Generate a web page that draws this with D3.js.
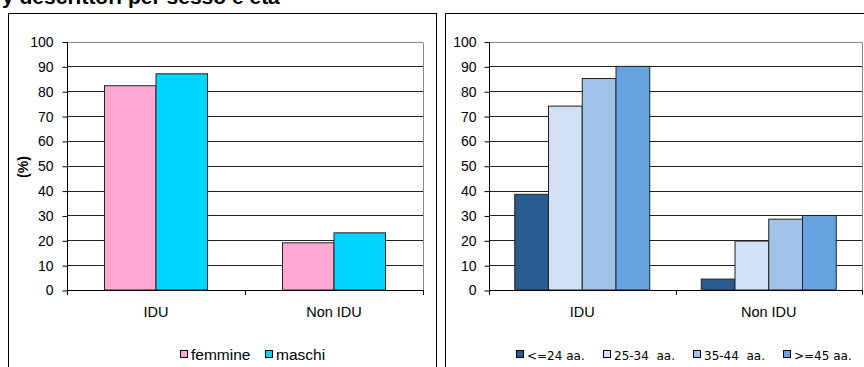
<!DOCTYPE html>
<html><head><meta charset="utf-8">
<script src="https://cdn.jsdelivr.net/npm/d3@7/dist/d3.min.js"></script>
<style>body{margin:0;background:#fff}svg{display:block}</style>
</head><body>
<svg id="c" width="864" height="367"></svg>
<script>
const categories = ["IDU", "Non IDU"];
const ticks = [0,10,20,30,40,50,60,70,80,90,100];
const sexSeries = ["femmine", "maschi"];
const femmine = [82.2, 19];
const maschi = [87, 23];
const ageSeries = ["<=24 aa.", "25-34  aa.", "35-44  aa.", ">=45 aa."];
const age24 = [38.5, 4.4];
const age25_34 = [74, 19.7];
const age35_44 = [85.1, 28.5];
const age45 = [90, 30];
const sexColors = ["#FFA8D4", "#00D4FF"];
const ageColors = ["#285C90", "#D1E1F3", "#A2C3E8", "#65A2E0"];

const svg = d3.select("#c");

// clipped title
svg.append("text").attr("x", 2).attr("y", 4).attr("font-family", "Liberation Sans, Arial").attr("font-weight", "bold").attr("font-size", 21).text("y descrittori per sesso e età");

// panel frames
svg.append("rect").attr("x", 8.5).attr("y", 13.5).attr("width", 428).attr("height", 400).attr("fill", "none").attr("stroke", "#000").attr("stroke-width", 1);
svg.append("rect").attr("x", 445.5).attr("y", 13.5).attr("width", 430).attr("height", 400).attr("fill", "none").attr("stroke", "#000").attr("stroke-width", 1);

function panel(opt) {
  const g = svg.append("g");
  const x0 = d3.scaleBand().domain(categories).range([opt.left, opt.right]).paddingInner(0).paddingOuter(0);
  const y = d3.scaleLinear().domain([0, 100]).range([290, 41.5]);
  const x1 = d3.scaleBand().domain(opt.series).range([0, opt.groupW]);
  // grid
  g.selectAll(".grid").data(ticks.filter(t => t > 0)).enter().append("line")
    .attr("x1", opt.left).attr("x2", opt.right)
    .attr("y1", d => Math.round(y(d)) + 0.5).attr("y2", d => Math.round(y(d)) + 0.5)
    .attr("stroke", d => d === 100 ? "#888" : "#222").attr("stroke-width", 1);
  // right border
  g.append("line").attr("x1", opt.right + 0.5).attr("x2", opt.right + 0.5).attr("y1", Math.round(y(100)) + 0.5).attr("y2", 290).attr("stroke", "#888");
  // bars
  opt.series.forEach((s, i) => {
    g.selectAll(".b" + i).data(categories).enter().append("rect")
      .attr("x", (d) => x0(d) + (x0.bandwidth() - opt.groupW) / 2 + x1(s))
      .attr("y", (d, j) => y(opt.values[i][j]))
      .attr("width", x1.bandwidth())
      .attr("height", (d, j) => 290 - y(opt.values[i][j]))
      .attr("fill", opt.colors[i]).attr("stroke", "#222").attr("stroke-width", 1);
  });
  // y axis
  const ya = d3.axisLeft(y).tickValues(ticks).tickSize(5).tickPadding(opt.tickPad);
  const yg = g.append("g").attr("transform", `translate(${opt.left + 0.5},0.5)`).call(ya);
  yg.select(".domain").attr("d", `M-0,${y(100)}V${290}`).attr("stroke", "#000");
  yg.selectAll("text").attr("font-family", "Liberation Sans, Arial").attr("font-size", 14).attr("fill", "#000");
  yg.selectAll(".tick line").attr("stroke", "#000");
  // x axis
  const xg = g.append("g");
  xg.append("line").attr("x1", opt.left).attr("x2", opt.right + 1).attr("y1", 290.5).attr("y2", 290.5).attr("stroke", "#000");
  const bounds = [opt.left, x0(categories[1]), opt.right];
  xg.selectAll(".xt").data(bounds).enter().append("line")
    .attr("x1", d => Math.round(d) + 0.5).attr("x2", d => Math.round(d) + 0.5)
    .attr("y1", 290).attr("y2", 295).attr("stroke", "#000");
  xg.selectAll(".xl").data(categories).enter().append("text")
    .attr("x", d => x0(d) + x0.bandwidth() / 2).attr("y", 317)
    .attr("text-anchor", "middle").attr("font-family", "Liberation Sans, Arial").attr("font-size", 14.5).text(d => d);
  // legend
  opt.series.forEach((s, i) => {
    const lx = opt.legendX[i];
    g.append("rect").attr("x", lx + 0.5).attr("y", 350.5).attr("width", 7).attr("height", 7)
      .attr("fill", opt.colors[i]).attr("stroke", "#000");
    g.append("text").attr("x", lx + 11).attr("y", 359.5).attr("font-family", opt.legendFont)
      .attr("font-size", opt.legendSize).attr("xml:space", "preserve").style("white-space", "pre").text(s);
  });
  return y;
}

panel({left: 67, right: 423, groupW: 103, series: sexSeries, values: [femmine, maschi], colors: sexColors,
  tickPad: 9, legendX: [180, 265], legendFont: "Liberation Sans, Arial", legendSize: 15.5});
panel({left: 489, right: 862, groupW: 135, series: ageSeries, values: [age24, age25_34, age35_44, age45], colors: ageColors,
  tickPad: 8, legendX: [516, 603, 693, 783], legendFont: "DejaVu Sans, Verdana", legendSize: 12});

svg.append("text").attr("transform", "translate(28,167) rotate(-90)").attr("text-anchor", "middle")
  .attr("font-family", "Liberation Sans, Arial").attr("font-weight", "bold").attr("font-size", 14).text("(%)");
</script>
</body></html>
